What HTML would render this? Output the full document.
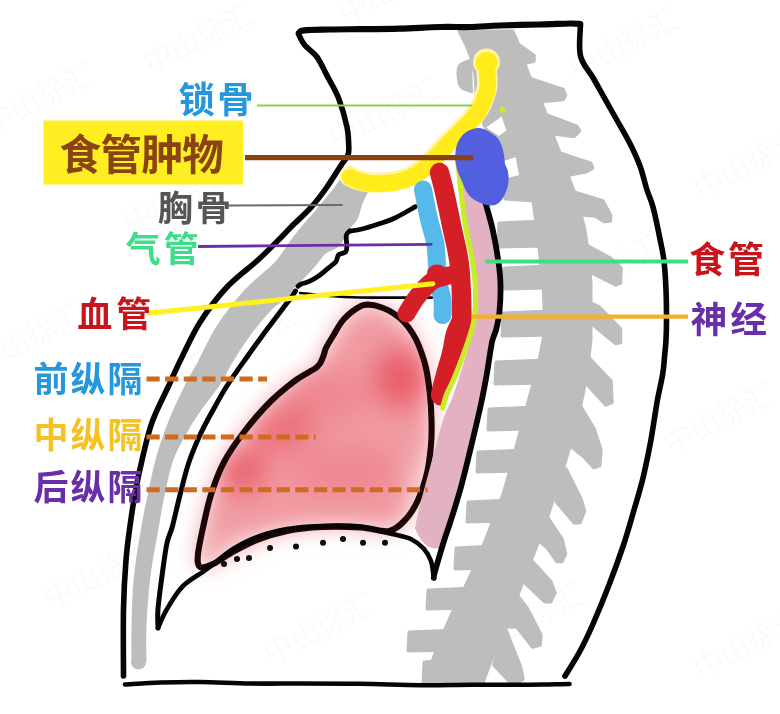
<!DOCTYPE html>
<html lang="zh">
<head>
<meta charset="utf-8">
<title>纵隔示意图</title>
<style>
html,body{margin:0;padding:0;background:#fff;}
body{width:780px;height:714px;overflow:hidden;}
svg{display:block;}
svg text{font-family:"Liberation Sans","Noto Sans CJK SC",sans-serif;font-weight:700;}
#wm text{font-weight:400;}
</style>
</head>
<body>
<svg width="780" height="714" viewBox="0 0 780 714">
<rect width="780" height="714" fill="#fff"/>
<g id="wm">
<text x="150" y="75" transform="rotate(-27 150 75)" font-size="30" font-weight="400" fill="#000" opacity="0.014">中山徐汇</text>
<text x="345" y="25" transform="rotate(-27 345 25)" font-size="30" font-weight="400" fill="#000" opacity="0.014">中山徐汇</text>
<text x="575" y="80" transform="rotate(-27 575 80)" font-size="30" font-weight="400" fill="#000" opacity="0.014">中山徐汇</text>
<text x="-10" y="135" transform="rotate(-27 -10 135)" font-size="30" font-weight="400" fill="#000" opacity="0.014">中山徐汇</text>
<text x="335" y="150" transform="rotate(-27 335 150)" font-size="30" font-weight="400" fill="#000" opacity="0.014">中山徐汇</text>
<text x="130" y="235" transform="rotate(-27 130 235)" font-size="30" font-weight="400" fill="#000" opacity="0.014">中山徐汇</text>
<text x="560" y="305" transform="rotate(-27 560 305)" font-size="30" font-weight="400" fill="#000" opacity="0.014">中山徐汇</text>
<text x="-20" y="375" transform="rotate(-27 -20 375)" font-size="30" font-weight="400" fill="#000" opacity="0.014">中山徐汇</text>
<text x="195" y="375" transform="rotate(-27 195 375)" font-size="30" font-weight="400" fill="#000" opacity="0.014">中山徐汇</text>
<text x="440" y="420" transform="rotate(-27 440 420)" font-size="30" font-weight="400" fill="#000" opacity="0.014">中山徐汇</text>
<text x="670" y="455" transform="rotate(-27 670 455)" font-size="30" font-weight="400" fill="#000" opacity="0.014">中山徐汇</text>
<text x="50" y="610" transform="rotate(-27 50 610)" font-size="30" font-weight="400" fill="#000" opacity="0.014">中山徐汇</text>
<text x="270" y="665" transform="rotate(-27 270 665)" font-size="30" font-weight="400" fill="#000" opacity="0.014">中山徐汇</text>
<text x="480" y="655" transform="rotate(-27 480 655)" font-size="30" font-weight="400" fill="#000" opacity="0.014">中山徐汇</text>
<text x="700" y="680" transform="rotate(-27 700 680)" font-size="30" font-weight="400" fill="#000" opacity="0.014">中山徐汇</text>
<text x="700" y="200" transform="rotate(-27 700 200)" font-size="30" font-weight="400" fill="#000" opacity="0.014">中山徐汇</text>
<text x="600" y="-5" transform="rotate(-27 600 -5)" font-size="30" font-weight="400" fill="#000" opacity="0.014">中山徐汇</text>
</g>
<g id="spine" fill="#bdbdbd" stroke="#bdbdbd" stroke-width="3" stroke-linejoin="round">
<path d="M459.0 31.0 L466.0 45.0 L471.0 58.0 L475.0 75.0 L476.0 92.0 L478.0 108.0 L484.0 125.0 L492.0 140.0 L502.0 160.0 L504.0 180.0 L505.0 199.0 L533.0 201.0 L537.0 230.0 L540.0 257.0 L543.0 282.0 L544.0 308.0 L543.0 340.0 L538.0 365.0 L531.0 391.0 L524.0 417.0 L517.0 443.0 L510.0 470.0 L503.0 494.0 L492.0 523.0 L477.0 561.0 L465.0 587.0 L452.0 613.0 L440.0 640.0 L431.0 664.0 L428.0 683.0 L483.0 683.0 L490.0 664.0 L500.0 640.0 L511.0 613.0 L521.0 587.0 L531.0 561.0 L546.0 523.0 L555.0 494.0 L563.0 470.0 L571.0 443.0 L578.0 417.0 L584.0 391.0 L588.0 365.0 L591.0 340.0 L591.0 308.0 L591.0 282.0 L589.0 257.0 L585.0 230.0 L578.0 201.0 L577.0 199.0 L570.0 180.0 L563.0 160.0 L555.0 140.0 L550.0 125.0 L544.0 108.0 L537.0 92.0 L529.0 75.0 L523.0 58.0 L519.0 45.0 L513.0 31.0Z"/>
<path d="M472.0 60.0 C470.0 60.8 462.3 62.5 460.0 65.0 C457.7 67.5 457.8 71.3 458.0 75.0 C458.2 78.7 458.5 84.2 461.0 87.0 C463.5 89.8 471.0 91.2 473.0 92.0"/>
<path d="M499 223 L545 221 L545 246 L498 247 Z"/>
<path d="M504 268 L548 266 L548 288 L503 289 Z"/>
<path d="M503 313 L550 311 L550 335 L502 336 Z"/>
<path d="M496 362 L548 360 L548 383 L495 384 Z"/>
<path d="M489 409 L535 407 L535 429 L488 430 Z"/>
<path d="M478 452 L525 450 L525 471 L477 472 Z"/>
<path d="M468 502 L510 500 L510 521 L467 522 Z"/>
<path d="M456 548 L495 546 L495 568 L455 569 Z"/>
<path d="M428 590 L475 588 L475 608 L427 609 Z"/>
<path d="M409 632 L460 630 L460 650 L408 651 Z"/>
<path d="M424 662 L450 660 L450 682 L423 683 Z"/>
<path d="M512.0 40.0 L534.0 55.5 L534.0 61.0 L522.0 64.0Z" stroke-width="3.5"/>
<path d="M531.0 79.0 L563.0 89.5 L565.5 95.5 L563.0 99.5 L543.0 101.5Z" stroke-width="3.5"/>
<path d="M547.8 115.5 L577.0 126.5 L579.5 131.0 L574.0 136.5 L554.5 134.0Z" stroke-width="3.5"/>
<path d="M561.0 153.4 L591.0 163.5 L592.5 168.0 L587.0 171.5 L569.0 175.0Z" stroke-width="3.5"/>
<path d="M573.5 192.0 L603.0 201.0 L610.5 215.0 L610.5 221.0 L604.0 221.5 L595.5 216.0 L582.8 215.0Z" stroke-width="3.5"/>
<path d="M586.0 245.0 L610.0 258.0 L621.0 268.0 L620.5 283.0 L615.8 285.0 L589.6 271.6Z" stroke-width="3.5"/>
<path d="M589.4 302.4 L598.8 306.8 L620.5 329.0 L620.5 342.5 L615.6 343.5 L592.8 324.6Z" stroke-width="3.5"/>
<path d="M587.0 356.0 L611.0 381.0 L612.0 402.5 L606.0 405.0 L587.7 385.0Z" stroke-width="3.5"/>
<path d="M581.0 407.0 L594.0 428.6 L601.0 450.0 L599.7 465.5 L594.0 467.5 L584.0 457.0 L569.0 444.7Z" stroke-width="3.5"/>
<path d="M566.0 469.0 L581.0 499.0 L584.5 511.0 L580.0 522.5 L574.5 523.0 L556.0 501.4Z" stroke-width="3.5"/>
<path d="M547.8 518.0 L562.0 539.0 L565.5 554.0 L562.0 561.5 L557.0 561.5 L547.0 547.5 L537.7 540.0Z" stroke-width="3.5"/>
<path d="M531.0 560.0 L551.0 582.0 L555.0 593.0 L550.5 602.0 L544.5 601.5 L525.0 583.0Z" stroke-width="3.5"/>
<path d="M517.0 595.0 L527.0 608.0 L541.0 635.0 L540.0 645.0 L532.5 647.0 L517.0 627.0 L504.4 626.5Z" stroke-width="3.5"/>
<path d="M504.4 626.0 L520.5 667.0 L523.0 679.0 L519.0 682.0 L510.0 682.0 L494.0 665.0Z" stroke-width="3.5"/>
</g>
<path d="M486.2 127.6 L501.6 116.4 L506.5 130.4 L498.8 136Z" fill="#fff"/>
<path d="M503.7 161.2 L515.6 157 L519.1 175.2 L507.2 178Z" fill="#fff"/>
<path d="M347.0 172.0 C346.0 173.0 343.2 175.3 341.0 178.0 C338.8 180.7 338.3 182.5 334.0 188.0 C329.7 193.5 320.1 205.0 315.0 211.0 C309.9 217.0 307.4 219.5 303.6 224.0 C299.8 228.5 295.9 233.3 292.4 238.0 C288.9 242.7 285.8 247.7 282.6 252.0 C279.4 256.3 279.5 257.5 273.0 264.0 C266.5 270.5 252.8 280.7 243.5 291.0 C234.2 301.3 224.7 313.7 217.0 325.6 C209.3 337.5 202.8 352.8 197.5 362.5 C192.2 372.2 190.3 374.2 185.5 384.0 C180.7 393.8 173.4 408.7 168.5 421.0 C163.6 433.3 159.3 446.3 156.0 458.0 C152.7 469.7 150.9 479.7 148.5 491.0 C146.1 502.3 143.9 511.8 141.5 526.0 C139.1 540.2 135.7 559.3 134.0 576.0 C132.3 592.7 131.9 611.7 131.5 626.0 C131.1 640.3 131.5 656.0 131.5 662.0 L146.5 662.0 C146.5 656.0 145.8 640.3 146.5 626.0 C147.2 611.7 148.4 592.7 150.5 576.0 C152.6 559.3 156.5 540.2 159.0 526.0 C161.5 511.8 163.0 502.3 165.5 491.0 C168.0 479.7 170.2 468.0 174.0 458.0 C177.8 448.0 183.6 438.8 188.0 431.0 C192.4 423.2 195.1 418.8 200.5 411.0 C205.9 403.2 215.2 392.1 220.5 384.0 C225.8 375.9 227.8 370.2 232.5 362.5 C237.2 354.8 242.2 346.6 248.5 338.0 C254.8 329.4 263.9 317.9 270.5 311.0 C277.1 304.1 284.3 300.6 288.2 296.8 C292.1 293.0 291.5 291.2 293.8 288.4 C296.1 285.6 299.4 282.8 302.2 280.0 C305.0 277.2 308.0 274.4 310.6 271.6 C313.2 268.8 315.0 266.2 317.6 263.2 C320.2 260.2 322.7 256.0 326.0 253.4 C329.3 250.8 334.3 250.0 337.2 247.8 C340.1 245.6 342.0 242.6 343.5 240.0 C345.0 237.4 343.8 235.7 346.0 232.4 C348.2 229.1 354.3 224.6 357.0 220.0 C359.7 215.4 360.2 209.7 362.0 205.0 C363.8 200.3 366.3 195.8 368.0 192.0 C369.7 188.2 371.3 183.7 372.0 182.0Z" fill="#bdbdbd"/>
<circle cx="138.5" cy="662" r="7.5" fill="#bdbdbd"/>
<defs>
<filter id="blur6" x="-30%" y="-30%" width="160%" height="160%"><feGaussianBlur stdDeviation="11"/></filter>
<filter id="blurB" x="-50%" y="-50%" width="200%" height="200%"><feGaussianBlur stdDeviation="14"/></filter>
<clipPath id="lclip"><path d="M361.0 306.0 C365.7 303.7 368.3 304.7 372.0 305.0 C375.7 305.3 379.5 306.7 383.0 308.0 C386.5 309.3 389.5 310.7 393.0 313.0 C396.5 315.3 400.7 318.5 404.0 322.0 C407.3 325.5 410.5 330.0 413.0 334.0 C415.5 338.0 416.8 340.3 419.0 346.0 C421.2 351.7 424.2 359.8 426.0 368.0 C427.8 376.2 429.1 386.3 430.0 395.0 C430.9 403.7 431.3 411.7 431.5 420.0 C431.7 428.3 431.8 436.2 431.0 445.0 C430.2 453.8 429.2 463.8 427.0 473.0 C424.8 482.2 421.5 492.3 418.0 500.0 C414.5 507.7 410.8 513.8 406.0 519.0 C401.2 524.2 396.5 529.6 389.0 531.0 C381.5 532.4 372.2 528.2 361.0 527.5 C349.8 526.8 334.3 526.4 322.0 527.0 C309.7 527.6 297.8 528.8 287.0 531.0 C276.2 533.2 266.3 536.3 257.0 540.0 C247.7 543.7 238.3 549.0 231.0 553.0 C223.7 557.0 218.2 561.7 213.0 564.0 C207.8 566.3 202.5 568.7 200.0 567.0 C197.5 565.3 197.3 561.3 198.0 554.0 C198.7 546.7 201.8 533.2 204.0 523.0 C206.2 512.8 208.2 503.2 211.5 493.0 C214.8 482.8 218.6 472.2 224.0 462.0 C229.4 451.8 236.3 442.0 244.0 432.0 C251.7 422.0 261.3 410.7 270.0 402.0 C278.7 393.3 288.2 385.8 296.0 380.0 C303.8 374.2 312.5 370.8 317.0 367.0 C321.5 363.2 321.5 360.2 323.0 357.0 C324.5 353.8 324.3 351.5 326.0 348.0 C327.7 344.5 330.0 340.8 333.0 336.0 C336.0 331.2 339.3 324.0 344.0 319.0 C348.7 314.0 356.3 308.3 361.0 306.0Z"/></clipPath>
</defs>
<path d="M361.0 306.0 C365.7 303.7 368.3 304.7 372.0 305.0 C375.7 305.3 379.5 306.7 383.0 308.0 C386.5 309.3 389.5 310.7 393.0 313.0 C396.5 315.3 400.7 318.5 404.0 322.0 C407.3 325.5 410.5 330.0 413.0 334.0 C415.5 338.0 416.8 340.3 419.0 346.0 C421.2 351.7 424.2 359.8 426.0 368.0 C427.8 376.2 429.1 386.3 430.0 395.0 C430.9 403.7 431.3 411.7 431.5 420.0 C431.7 428.3 431.8 436.2 431.0 445.0 C430.2 453.8 429.2 463.8 427.0 473.0 C424.8 482.2 421.5 492.3 418.0 500.0 C414.5 507.7 410.8 513.8 406.0 519.0 C401.2 524.2 396.5 529.6 389.0 531.0 C381.5 532.4 372.2 528.2 361.0 527.5 C349.8 526.8 334.3 526.4 322.0 527.0 C309.7 527.6 297.8 528.8 287.0 531.0 C276.2 533.2 266.3 536.3 257.0 540.0 C247.7 543.7 238.3 549.0 231.0 553.0 C223.7 557.0 218.2 561.7 213.0 564.0 C207.8 566.3 202.5 568.7 200.0 567.0 C197.5 565.3 197.3 561.3 198.0 554.0 C198.7 546.7 201.8 533.2 204.0 523.0 C206.2 512.8 208.2 503.2 211.5 493.0 C214.8 482.8 218.6 472.2 224.0 462.0 C229.4 451.8 236.3 442.0 244.0 432.0 C251.7 422.0 261.3 410.7 270.0 402.0 C278.7 393.3 288.2 385.8 296.0 380.0 C303.8 374.2 312.5 370.8 317.0 367.0 C321.5 363.2 321.5 360.2 323.0 357.0 C324.5 353.8 324.3 351.5 326.0 348.0 C327.7 344.5 330.0 340.8 333.0 336.0 C336.0 331.2 339.3 324.0 344.0 319.0 C348.7 314.0 356.3 308.3 361.0 306.0Z" fill="#f19ba3" filter="url(#blur6)"/>
<g clip-path="url(#lclip)">
<g filter="url(#blurB)">
<ellipse cx="400" cy="378" rx="26" ry="30" fill="#e75c68"/>
<ellipse cx="290" cy="425" rx="42" ry="20" fill="#ea6d78" transform="rotate(-35 290 425)"/>
<ellipse cx="243" cy="472" rx="22" ry="20" fill="#e75c68"/>
<ellipse cx="345" cy="470" rx="55" ry="24" fill="#ee8791"/>
<ellipse cx="330" cy="395" rx="40" ry="24" fill="#ee8791"/>
<ellipse cx="310" cy="552" rx="100" ry="9" fill="#fdeff0"/>
<ellipse cx="424" cy="490" rx="7" ry="40" fill="#fbe1e3"/>
</g></g>
<path d="M361.0 306.0 C365.7 303.7 368.3 304.7 372.0 305.0 C375.7 305.3 379.5 306.7 383.0 308.0 C386.5 309.3 389.5 310.7 393.0 313.0 C396.5 315.3 400.7 318.5 404.0 322.0 C407.3 325.5 410.5 330.0 413.0 334.0 C415.5 338.0 416.8 340.3 419.0 346.0 C421.2 351.7 424.2 359.8 426.0 368.0 C427.8 376.2 429.1 386.3 430.0 395.0 C430.9 403.7 431.3 411.7 431.5 420.0 C431.7 428.3 431.8 436.2 431.0 445.0 C430.2 453.8 429.2 463.8 427.0 473.0 C424.8 482.2 421.5 492.3 418.0 500.0 C414.5 507.7 410.8 513.8 406.0 519.0 C401.2 524.2 396.5 529.6 389.0 531.0 C381.5 532.4 372.2 528.2 361.0 527.5 C349.8 526.8 334.3 526.4 322.0 527.0 C309.7 527.6 297.8 528.8 287.0 531.0 C276.2 533.2 266.3 536.3 257.0 540.0 C247.7 543.7 238.3 549.0 231.0 553.0 C223.7 557.0 218.2 561.7 213.0 564.0 C207.8 566.3 202.5 568.7 200.0 567.0 C197.5 565.3 197.3 561.3 198.0 554.0 C198.7 546.7 201.8 533.2 204.0 523.0 C206.2 512.8 208.2 503.2 211.5 493.0 C214.8 482.8 218.6 472.2 224.0 462.0 C229.4 451.8 236.3 442.0 244.0 432.0 C251.7 422.0 261.3 410.7 270.0 402.0 C278.7 393.3 288.2 385.8 296.0 380.0 C303.8 374.2 312.5 370.8 317.0 367.0 C321.5 363.2 321.5 360.2 323.0 357.0 C324.5 353.8 324.3 351.5 326.0 348.0 C327.7 344.5 330.0 340.8 333.0 336.0 C336.0 331.2 339.3 324.0 344.0 319.0 C348.7 314.0 356.3 308.3 361.0 306.0Z" fill="none" stroke="#1c0606" stroke-width="6.1" stroke-linejoin="round"/>
<path d="M458.0 180.0 C458.7 183.3 460.5 192.0 462.0 200.0 C463.5 208.0 465.3 219.7 467.0 228.0 C468.7 236.3 470.5 241.3 472.0 250.0 C473.5 258.7 475.2 270.8 476.0 280.0 C476.8 289.2 477.3 297.5 477.0 305.0 C476.7 312.5 475.2 318.8 474.0 325.0 C472.8 331.2 471.8 335.3 470.0 342.0 C468.2 348.7 465.8 356.0 463.0 365.0 C460.2 374.0 456.2 387.3 453.0 396.0 C449.8 404.7 446.8 408.8 444.0 417.0 C441.2 425.2 438.7 435.3 436.0 445.0 C433.3 454.7 430.7 465.0 428.0 475.0 C425.3 485.0 422.2 496.2 420.0 505.0 C417.8 513.8 415.8 524.2 415.0 528.0 Q 424 552 441 548 L441.0 548.0 C442.5 543.8 446.8 532.8 450.0 523.0 C453.2 513.2 456.5 501.7 460.0 489.0 C463.5 476.3 467.5 461.2 471.0 447.0 C474.5 432.8 478.3 416.3 481.0 404.0 C483.7 391.7 485.2 383.3 487.0 373.0 C488.8 362.7 490.3 350.8 492.0 342.0 C493.7 333.2 495.7 327.8 497.0 320.0 C498.3 312.2 499.8 304.7 500.0 295.0 C500.2 285.3 499.2 272.7 498.0 262.0 C496.8 251.3 494.8 240.7 493.0 231.0 C491.2 221.3 488.5 210.0 487.0 204.0 C485.5 198.0 484.5 196.5 484.0 195.0 Z" fill="#e2b1c2"/>
<path d="M298.5 34.0 C299.5 35.8 301.5 41.2 304.6 45.0 C307.7 48.8 313.3 51.9 317.0 57.0 C320.7 62.1 323.4 68.8 327.0 75.6 C330.6 82.4 335.2 89.4 338.5 98.0 C341.8 106.6 345.3 119.2 347.0 127.0 C348.7 134.8 348.5 140.3 348.7 145.0 C348.9 149.7 349.2 151.7 348.0 155.0 C346.8 158.3 345.0 159.3 341.5 164.6 C338.0 169.9 332.1 179.8 327.0 187.0 C321.9 194.2 316.6 201.2 310.8 207.7 C305.0 214.2 297.1 220.9 292.0 226.0 C286.9 231.1 285.7 232.8 280.0 238.5 C274.3 244.2 266.8 251.9 258.0 260.0 C249.2 268.1 236.6 276.8 227.0 287.0 C217.4 297.2 208.1 309.7 200.5 321.5 C192.9 333.3 186.7 347.6 181.5 358.0 C176.3 368.4 174.3 373.5 169.5 384.0 C164.7 394.5 157.0 408.7 152.5 421.0 C148.0 433.3 145.3 446.3 142.5 458.0 C139.7 469.7 137.6 479.7 135.5 491.0 C133.4 502.3 131.6 514.5 130.0 526.0 C128.4 537.5 127.1 546.2 126.0 560.0 C124.9 573.8 123.9 589.7 123.5 609.0 C123.1 628.3 123.5 664.8 123.5 676.0" fill="none" stroke="#050505" stroke-width="5.6" stroke-linecap="round" stroke-linejoin="round"/>
<path d="M299.0 33.0 C299.8 32.5 298.8 30.9 304.0 30.3 C309.2 29.7 320.7 29.7 330.0 29.5 C339.3 29.3 348.3 29.3 360.0 29.2 C371.7 29.1 386.7 29.0 400.0 28.6 C413.3 28.2 428.3 27.3 440.0 27.0 C451.7 26.7 460.0 27.2 470.0 27.0 C480.0 26.8 488.3 25.9 500.0 25.5 C511.7 25.1 528.3 24.8 540.0 24.5 C551.7 24.2 563.3 23.6 570.0 23.5 C576.7 23.4 578.3 23.9 580.0 24.0" fill="none" stroke="#050505" stroke-width="6.2" stroke-linecap="round" stroke-linejoin="round"/>
<path d="M580.5 24.0 C580.5 29.3 578.3 46.8 580.5 56.0 C582.7 65.2 588.2 69.2 593.8 79.0 C599.4 88.8 608.0 104.3 614.0 115.0 C620.0 125.7 625.4 134.5 629.7 143.0 C634.0 151.5 637.1 158.2 640.0 166.0 C642.9 173.8 644.8 183.2 647.0 190.0 C649.2 196.8 650.8 198.8 653.0 207.0 C655.2 215.2 658.2 230.0 660.0 239.0 C661.8 248.0 663.0 252.5 664.0 261.0 C665.0 269.5 665.6 280.2 666.0 290.0 C666.4 299.8 666.5 311.7 666.5 320.0 C666.5 328.3 666.3 333.8 666.0 340.0 C665.7 346.2 665.0 351.3 664.5 357.0 C664.0 362.7 663.9 367.0 662.7 374.0 C661.6 381.0 658.9 392.2 657.6 399.0 C656.3 405.8 656.3 407.3 655.0 415.0 C653.7 422.7 652.1 434.2 650.0 445.0 C647.9 455.8 645.2 469.2 642.5 480.0 C639.8 490.8 637.2 499.2 634.0 510.0 C630.8 520.8 627.7 532.5 623.5 545.0 C619.3 557.5 614.1 571.8 609.0 585.0 C603.9 598.2 597.9 612.8 593.0 624.0 C588.1 635.2 584.2 643.3 579.5 652.0 C574.8 660.7 567.4 672.0 565.0 676.0" fill="none" stroke="#050505" stroke-width="5.6" stroke-linecap="round" stroke-linejoin="round"/>
<path d="M125.0 684.5 C130.8 684.2 147.5 682.9 160.0 682.5 C172.5 682.1 185.0 681.8 200.0 682.0 C215.0 682.2 233.3 683.2 250.0 683.5 C266.7 683.8 281.7 683.5 300.0 683.5 C318.3 683.5 340.0 683.5 360.0 683.8 C380.0 684.1 401.7 685.0 420.0 685.2 C438.3 685.4 453.3 684.9 470.0 684.8 C486.7 684.7 503.4 684.9 520.0 684.8 C536.6 684.7 561.2 684.1 569.5 684.0" fill="none" stroke="#050505" stroke-width="4.6" stroke-linecap="round" stroke-linejoin="round"/>
<path d="M415.4 206.7 C412.0 208.6 401.1 215.1 395.0 218.0 C388.9 220.9 384.0 222.2 378.5 224.0 C373.0 225.8 366.8 227.8 362.0 229.0 C357.2 230.2 351.8 230.7 349.7 231.0" fill="none" stroke="#050505" stroke-width="4.8" stroke-linecap="round" stroke-linejoin="round"/>
<path d="M349.8 231.0 C349.2 231.7 346.8 232.6 346.3 235.2 C345.8 237.8 346.9 243.6 346.8 246.4 C346.7 249.2 347.0 250.6 345.6 252.0 C344.2 253.4 340.2 253.2 338.6 254.8 C337.0 256.4 337.7 259.5 335.8 261.8 C333.9 264.1 330.2 266.5 327.4 268.8 C324.6 271.1 322.0 273.7 319.0 275.8 C316.0 277.9 312.2 280.0 309.2 281.4 C306.2 282.8 302.7 283.4 300.8 284.2 C298.9 285.0 298.5 285.9 298.0 286.3" fill="none" stroke="#050505" stroke-width="4.8" stroke-linecap="round" stroke-linejoin="round"/>
<path d="M295.5 291.0 C294.8 292.2 292.7 295.7 291.0 298.0 C289.3 300.3 289.2 300.0 285.4 305.0 C281.6 310.0 274.3 319.5 268.0 328.0 C261.7 336.5 254.4 346.5 247.7 356.0 C240.9 365.5 233.4 375.8 227.5 385.0 C221.6 394.2 217.1 402.7 212.5 411.0 C207.9 419.3 203.9 426.5 200.0 435.0 C196.1 443.5 192.2 452.7 189.0 462.0 C185.8 471.3 183.8 480.3 181.0 491.0 C178.2 501.7 174.8 517.3 172.5 526.0 C170.2 534.7 168.8 534.7 167.0 543.0 C165.2 551.3 163.5 565.0 162.0 576.0 C160.5 587.0 158.7 600.3 158.0 609.0 C157.3 617.7 158.0 624.8 158.0 628.0" fill="none" stroke="#050505" stroke-width="5.0" stroke-linecap="round" stroke-linejoin="round"/>
<path d="M158.0 628.0 C159.5 624.8 162.8 616.0 167.0 609.0 C171.2 602.0 176.3 592.7 183.0 586.0 C189.7 579.3 198.7 575.2 207.0 569.0 C215.3 562.8 224.2 554.5 233.0 549.0 C241.8 543.5 251.0 539.3 260.0 536.0 C269.0 532.7 277.0 530.7 287.0 529.0 C297.0 527.3 307.8 526.4 320.0 526.0 C332.2 525.6 349.5 525.5 360.0 526.5 C370.5 527.5 377.2 530.7 383.0 532.0 C388.8 533.3 390.4 533.3 395.0 534.5 C399.6 535.7 406.0 536.7 410.8 539.0 C415.6 541.3 420.2 544.8 423.6 548.5 C427.0 552.2 429.3 556.1 431.0 561.0 C432.7 565.9 433.3 575.2 433.8 578.0" fill="none" stroke="#050505" stroke-width="4.6" stroke-linecap="round" stroke-linejoin="round"/>
<path d="M485.6 203.0 C486.8 207.7 490.9 221.2 493.0 231.0 C495.1 240.8 497.2 253.0 498.5 262.0 C499.8 271.0 500.3 276.8 500.5 285.0 C500.7 293.2 500.2 304.0 499.5 311.5 C498.8 319.0 497.2 324.9 496.0 330.0 C494.8 335.1 493.5 334.8 492.0 342.0 C490.5 349.2 488.8 362.7 487.0 373.0 C485.2 383.3 483.7 391.6 481.0 404.0 C478.3 416.4 474.2 433.6 470.8 447.7 C467.4 461.8 464.0 476.1 460.5 488.7 C457.0 501.2 452.8 514.3 450.0 523.0 C447.2 531.7 446.5 532.7 444.0 540.8 C441.5 548.9 436.7 565.3 435.0 571.5 C433.3 577.7 434.0 576.9 433.8 578.0" fill="none" stroke="#050505" stroke-width="5.8" stroke-linecap="round" stroke-linejoin="round"/>
<path d="M300.0 293.0 C305.0 293.5 320.0 295.2 330.0 296.0 C340.0 296.8 348.3 297.2 360.0 297.5 C371.7 297.8 388.0 297.6 400.0 297.6 C412.0 297.6 426.7 297.6 432.0 297.6" fill="none" stroke="#050505" stroke-width="2.6" stroke-linecap="round" stroke-linejoin="round"/>
<circle cx="224.0" cy="564.0" r="3" fill="#0c0c0c"/>
<circle cx="237.0" cy="559.0" r="3" fill="#0c0c0c"/>
<circle cx="249.0" cy="558.0" r="3" fill="#0c0c0c"/>
<circle cx="270.0" cy="548.0" r="3" fill="#0c0c0c"/>
<circle cx="296.0" cy="546.6" r="3" fill="#0c0c0c"/>
<circle cx="323.0" cy="542.7" r="3" fill="#0c0c0c"/>
<circle cx="343.0" cy="539.0" r="3" fill="#0c0c0c"/>
<circle cx="363.0" cy="542.7" r="3" fill="#0c0c0c"/>
<circle cx="385.0" cy="542.7" r="3" fill="#0c0c0c"/>
<path d="M349.5 176.0 C350.9 176.7 354.2 178.9 358.0 180.0 C361.8 181.1 366.2 182.2 372.0 182.5 C377.8 182.8 386.7 182.5 393.0 181.5 C399.3 180.5 404.7 179.0 410.0 176.5 C415.3 174.0 419.8 170.9 425.0 166.5 C430.2 162.1 436.5 154.7 441.0 150.0 C445.5 145.3 447.5 143.1 452.0 138.5 C456.5 133.9 463.3 127.8 468.0 122.6 C472.7 117.3 477.1 111.9 480.0 107.0 C482.9 102.1 484.3 96.8 485.5 93.0 C486.7 89.2 487.3 89.0 487.4 84.0 C487.5 79.0 486.2 66.5 486.0 63.0" fill="none" stroke="#fff4a6" stroke-width="20.5" stroke-linecap="round" stroke-linejoin="round"/>
<circle cx="486.5" cy="62" r="13.5" fill="#fff4a6"/>
<path d="M349.5 176.0 C350.9 176.7 354.2 178.9 358.0 180.0 C361.8 181.1 366.2 182.2 372.0 182.5 C377.8 182.8 386.7 182.5 393.0 181.5 C399.3 180.5 404.7 179.0 410.0 176.5 C415.3 174.0 419.8 170.9 425.0 166.5 C430.2 162.1 436.5 154.7 441.0 150.0 C445.5 145.3 447.5 143.1 452.0 138.5 C456.5 133.9 463.3 127.8 468.0 122.6 C472.7 117.3 477.1 111.9 480.0 107.0 C482.9 102.1 484.3 96.8 485.5 93.0 C486.7 89.2 487.3 89.0 487.4 84.0 C487.5 79.0 486.2 66.5 486.0 63.0" fill="none" stroke="#ffec1a" stroke-width="16.5" stroke-linecap="round" stroke-linejoin="round" transform="translate(0.5 1)"/>
<circle cx="486.5" cy="63" r="11" fill="#ffec1a"/>
<path d="M423.0 189.5 C423.7 192.9 425.8 204.1 427.0 210.0 C428.2 215.9 429.1 219.3 430.5 225.0 C431.9 230.7 434.3 237.3 435.4 244.0 C436.5 250.7 436.4 258.2 437.0 265.0 C437.6 271.8 438.1 279.2 439.0 285.0 C439.9 290.8 441.9 295.0 442.5 300.0 C443.1 305.0 442.5 312.5 442.5 315.0" fill="none" stroke="#57b8ea" stroke-width="18" stroke-linecap="round"/>
<path d="M452.0 275.0 C450.2 275.4 444.5 276.3 441.0 277.5 C437.5 278.7 435.0 278.8 431.0 282.0 C427.0 285.2 421.1 291.8 417.0 297.0 C412.9 302.2 408.2 310.8 406.5 313.5" fill="none" stroke="#d41f27" stroke-width="18" stroke-linecap="round"/>
<path d="M439.5 172.5 C440.2 175.4 442.5 183.5 444.0 190.0 C445.5 196.5 447.2 204.5 448.7 211.5 C450.2 218.5 451.5 225.2 453.0 232.0 C454.5 238.8 456.3 246.3 457.5 252.6 C458.7 258.9 459.3 262.8 460.0 270.0 C460.7 277.2 461.2 287.7 461.5 296.0 C461.8 304.3 461.9 316.0 462.0 320.0" fill="none" stroke="#d41f27" stroke-width="19.4" stroke-linecap="round"/>
<ellipse cx="437" cy="273" rx="10" ry="8.5" fill="#d41f27"/>
<path d="M452.0 318.0 C451.0 320.3 447.7 326.3 446.0 332.0 C444.3 337.7 443.7 345.2 442.0 352.0 C440.3 358.8 437.8 365.7 436.0 373.0 C434.2 380.3 430.8 390.7 431.0 396.0 C431.2 401.3 436.0 403.5 437.0 405.0 L443.0 406.0 C443.8 404.3 446.2 401.2 448.0 396.0 C449.8 390.8 451.9 381.7 454.0 375.0 C456.1 368.3 458.5 361.5 460.5 356.0 C462.5 350.5 464.4 346.3 466.0 342.0 C467.6 337.7 469.0 334.0 470.0 330.0 C471.0 326.0 471.7 320.0 472.0 318.0Z" fill="#d41f27"/>
<path d="M442.5 299.0 C442.5 301.8 442.5 312.8 442.5 315.5" fill="none" stroke="#57b8ea" stroke-width="17" stroke-linecap="round"/>
<path d="M452 285 L452 330 L470 330 L470 285Z" fill="#d41f27"/>
<path d="M457.5 160.0 C457.8 162.5 458.8 170.0 459.3 175.0 C459.9 180.0 460.2 185.0 460.8 190.0 C461.4 195.0 462.0 200.0 462.6 205.0 C463.2 210.0 463.8 214.8 464.6 220.0 C465.4 225.2 466.2 230.6 467.3 236.0 C468.4 241.4 469.9 246.9 471.0 252.6 C472.1 258.3 473.1 264.9 473.8 270.0 C474.5 275.1 474.9 278.0 475.2 283.0 C475.5 288.0 475.6 295.0 475.6 300.0 C475.6 305.0 475.4 308.8 475.0 313.0 C474.6 317.2 473.9 321.0 473.0 325.0 C472.1 329.0 470.8 332.8 469.5 337.0 C468.2 341.2 466.7 345.3 465.0 350.0 C463.3 354.7 461.6 359.7 459.5 365.0 C457.4 370.3 454.8 376.8 452.5 382.0 C450.2 387.2 447.6 391.7 446.0 396.0 C444.4 400.3 443.2 406.0 442.6 408.0" fill="none" stroke="#c9ec2a" stroke-width="5.2" stroke-linecap="round"/>
<circle cx="502.8" cy="109.7" r="3" fill="#c9ec2a"/>
<path d="M472.2 129.7 C475.2 128.8 479.0 128.4 482.0 129.0 C485.0 129.6 487.8 131.6 490.4 133.2 C493.0 134.8 495.5 136.5 497.4 138.8 C499.3 141.1 500.6 144.2 501.6 147.2 C502.7 150.2 503.2 154.2 503.7 157.0 C504.2 159.8 503.8 161.7 504.4 164.0 C505.0 166.3 506.6 168.2 507.2 171.0 C507.8 173.8 508.2 177.5 508.0 180.8 C507.8 184.1 506.9 187.6 505.8 190.6 C504.7 193.6 503.2 196.8 501.6 199.0 C500.0 201.2 498.3 203.1 496.0 204.0 C493.7 204.9 490.4 205.0 487.6 204.6 C484.8 204.2 481.8 203.0 479.2 201.8 C476.6 200.6 474.3 199.5 472.2 197.6 C470.1 195.7 468.2 193.4 466.6 190.6 C465.0 187.8 463.8 184.1 462.4 180.8 C461.0 177.5 459.2 174.3 458.2 171.0 C457.1 167.7 456.5 164.5 456.1 161.2 C455.8 157.9 455.8 154.4 456.1 151.4 C456.5 148.4 456.9 145.8 458.2 143.0 C459.5 140.2 461.5 136.8 463.8 134.6 C466.1 132.4 469.2 130.6 472.2 129.7Z" fill="#525fde" stroke="#525fde" stroke-width="1.2" stroke-linejoin="round"/>
<line x1="257" y1="105.5" x2="472" y2="105.5" stroke="#8fd04a" stroke-width="2"/>
<line x1="245" y1="157.6" x2="473.3" y2="157.6" stroke="#8a4211" stroke-width="5.2"/>
<line x1="228" y1="205.5" x2="342.6" y2="205" stroke="#6b6b6b" stroke-width="2.2"/>
<line x1="198" y1="246.5" x2="432.3" y2="244.4" stroke="#6a2fa8" stroke-width="2.8"/>
<line x1="150" y1="313" x2="432.8" y2="283.8" stroke="#fff01f" stroke-width="5" stroke-linecap="round"/>
<line x1="485.6" y1="261.5" x2="688" y2="261.5" stroke="#3ddf80" stroke-width="4"/>
<line x1="472" y1="316.7" x2="688" y2="316.7" stroke="#f2b22c" stroke-width="4.2"/>
<line x1="146.5" y1="379.0" x2="267.0" y2="379.0" stroke="#d06a1e" stroke-width="5" stroke-dasharray="13.2 5.4"/>
<line x1="146.5" y1="437.0" x2="315.5" y2="437.0" stroke="#d06a1e" stroke-width="5" stroke-dasharray="13.2 5.4"/>
<line x1="146.5" y1="489.7" x2="427.5" y2="489.7" stroke="#d06a1e" stroke-width="5" stroke-dasharray="13.2 5.4"/>
<rect x="43.5" y="120.5" width="199.5" height="64" fill="#ffee22"/>
<text x="178.8" y="112.6" font-size="36.0" fill="#2497dd" letter-spacing="2.6">锁骨</text>
<text x="59.6" y="169.5" font-size="41.5" fill="#8a4313" letter-spacing="-0.6">食管肿物</text>
<text x="157.8" y="220.8" font-size="35.0" fill="#555" letter-spacing="3.2">胸骨</text>
<text x="125.6" y="261.8" font-size="35.0" fill="#3fdc8a" letter-spacing="3.2">气管</text>
<text x="77.3" y="327.2" font-size="35.0" fill="#c8151b" letter-spacing="3.9">血管</text>
<text x="33.4" y="392.3" font-size="35.0" fill="#2497dd" letter-spacing="2.1">前纵隔</text>
<text x="33.4" y="447.9" font-size="35.0" fill="#f5c321" letter-spacing="2.1">中纵隔</text>
<text x="33.4" y="499.9" font-size="35.0" fill="#6a2fa8" letter-spacing="2.1">后纵隔</text>
<text x="689.3" y="273.1" font-size="36.0" fill="#c8151b" letter-spacing="2.8">食管</text>
<text x="690.7" y="333.3" font-size="36.5" fill="#6a2fa8" letter-spacing="3.4">神经</text>
</svg>
</body>
</html>
